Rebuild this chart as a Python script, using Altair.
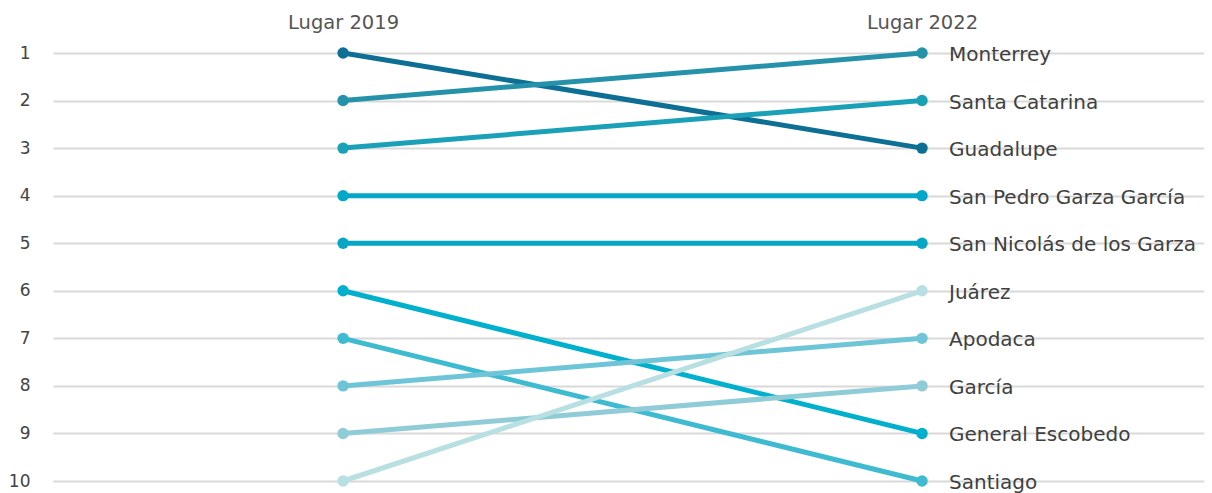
import altair as alt
import pandas as pd

municipios = ["Guadalupe", "Monterrey", "Santa Catarina", "San Pedro Garza García",
              "San Nicolás de los Garza", "General Escobedo", "Santiago", "Apodaca",
              "García", "Juárez"]
lugar_2019 = [1, 2, 3, 4, 5, 6, 7, 8, 9, 10]
lugar_2022 = [3, 1, 2, 4, 5, 9, 10, 7, 8, 6]
colores = ["#0c6f93", "#2592aa", "#1aa1b8", "#03a7c7", "#08a6c6",
           "#01b0cc", "#3ebbd0", "#6dc5d7", "#90ccd8", "#b8dfe1"]
anios = [2019, 2022]
rangos = list(range(1, 11))

rows = []
for m, a, b in zip(municipios, lugar_2019, lugar_2022):
    rows.append({"municipio": m, "anio": anios[0], "lugar": a})
    rows.append({"municipio": m, "anio": anios[1], "lugar": b})
df = pd.DataFrame(rows)

FONT = "DejaVu Sans"

x = alt.X("anio:Q",
          scale=alt.Scale(domain=[2017.497, 2023.461], nice=False, zero=False),
          axis=alt.Axis(orient="top", values=anios, labelExpr="'Lugar ' + datum.value",
                        grid=False, domain=False, ticks=False, labelPadding=21,
                        labelFontSize=19.5, labelColor="#555555", labelFont=FONT,
                        title=None))
y = alt.Y("lugar:Q",
          scale=alt.Scale(domain=[1, 10], reverse=True, nice=False, zero=False),
          axis=alt.Axis(values=rangos, grid=True, gridColor="#d9d9d9", gridWidth=2,
                        domain=False, ticks=False, labelPadding=23, labelFontSize=17,
                        labelColor="#444444", labelFont=FONT, title=None))
color = alt.Color("municipio:N", scale=alt.Scale(domain=municipios, range=colores),
                  legend=None)

base = alt.Chart(df)
lines = base.mark_line(strokeWidth=5).encode(x=x, y=y, color=color, detail="municipio:N")
points = base.mark_circle(size=130, opacity=1).encode(x=x, y=y, color=color)
labels = base.transform_filter(alt.datum.anio == 2022).mark_text(
    align="left", baseline="middle", dx=27, dy=2, fontSize=20, font=FONT, color="#404040"
).encode(x=x, y=y, text="municipio:N")

chart = (lines + points + labels).properties(
    width=1151, height=428,
    autosize=alt.AutoSizeParams(type="none"),
    padding={"left": 45, "top": 45, "right": 0, "bottom": 12},
).configure_view(stroke=None)

chart.save("out.html", embed_options={"renderer": "svg", "actions": False})
